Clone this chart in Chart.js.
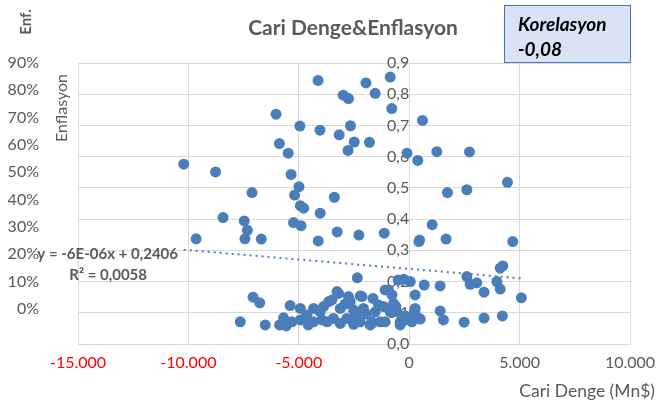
<!DOCTYPE html>
<html>
<head>
<meta charset="utf-8">
<script src="https://cdn.jsdelivr.net/npm/chart.js@4.4.1/dist/chart.umd.min.js"></script>
<style>
  html, body { margin: 0; padding: 0; background: #fff; }
  #wrap { width: 670px; height: 402px; }
</style>
</head>
<body>
<div id="wrap"><canvas id="chart" width="670" height="402"></canvas></div>
<script>
// Cari Denge (Mn$) vs Enflasyon, one pair per point
var cariDenge = [
  -4130, -1960, -2990, -2750, -860, -1540, -790, -6030, -4950, -4040,
  -3170, -2660, -5880, -5480, -2490, -2770, -1800, -10210, -8770, -5350,
  -7120, -4990, -5190, -3390, -4930, -4780, -4030, -8430, -7470, -5240,
  -4900, -3260, -2280, -9650, -7330, -7440, -6700, -4120, -1130, -100,
  390, 600, 1250, 2730, 1730, 2610, 1040, 470, 440, 1670,
  4450, 4690, -2350, -7650, -7070, -6770, -6520, -5870, -5690, -5390,
  -5310, -4930, -4930, -4630, -4330, -4330, -4030, -3950, -3650, -3720,
  -3500, -3200, -2750, -2220, -1640, -3270, -2670, -940, -780, -710,
  -3880, -3120, -2520, -2070, -1390, -560, -3430, -2820, -2220, -1690,
  -1090, -410, -3120, -2520, -1770, -410, -500, -250, 50, 270,
  680, 1400, 270, 240, 1400, 1550, 2490, 3390, 4220, 2610,
  2760, 3060, 3390, 3970, 4120, 4120, 4240, 5080, -270, 50,
  410, 500, 120, -1160, -600, -1090, -1310, -1690, -2140, -2900,
  -1950, -2400, -1540, -180, -860, -4570, -5570
];
var enflasyon = [
  0.844, 0.836, 0.797, 0.786, 0.855, 0.803, 0.754, 0.736, 0.698, 0.685,
  0.670, 0.699, 0.642, 0.611, 0.647, 0.620, 0.646, 0.576, 0.551, 0.543,
  0.485, 0.504, 0.477, 0.470, 0.443, 0.435, 0.419, 0.405, 0.394, 0.389,
  0.379, 0.359, 0.349, 0.337, 0.364, 0.337, 0.336, 0.330, 0.355, 0.611,
  0.588, 0.716, 0.616, 0.615, 0.485, 0.494, 0.382, 0.333, 0.328, 0.336,
  0.518, 0.328, 0.212, 0.071, 0.150, 0.132, 0.061, 0.061, 0.084, 0.123,
  0.071, 0.114, 0.077, 0.093, 0.114, 0.071, 0.104, 0.077, 0.136, 0.071,
  0.141, 0.162, 0.152, 0.154, 0.146, 0.168, 0.136, 0.173, 0.157, 0.130,
  0.120, 0.114, 0.109, 0.114, 0.125, 0.104, 0.082, 0.082, 0.071, 0.071,
  0.071, 0.071, 0.066, 0.063, 0.061, 0.061, 0.205, 0.207, 0.200, 0.157,
  0.189, 0.186, 0.114, 0.104, 0.106, 0.077, 0.070, 0.083, 0.090, 0.216,
  0.191, 0.196, 0.166, 0.200, 0.176, 0.243, 0.250, 0.148, 0.074, 0.077,
  0.083, 0.080, 0.071, 0.120, 0.120, 0.173, 0.071, 0.066, 0.152, 0.128,
  0.096, 0.090, 0.103, 0.090, 0.103, 0.061, 0.058
];

// trend line from the Excel label: y = -6E-06x + 0,2406
var trendSlope = -0.000006;
var trendIntercept = 0.2406;
var trendLabel = 'y = -6E-06x + 0,2406';
var r2Label = 'R² = 0,0058';
var korelasyon = '-0,08';

var xTicks = [-15000, -10000, -5000, 0, 5000, 10000];
var yTicks = [0, 0.1, 0.2, 0.3, 0.4, 0.5, 0.6, 0.7, 0.8, 0.9];
var pctTicks = [0, 0.1, 0.2, 0.3, 0.4, 0.5, 0.6, 0.7, 0.8, 0.9];

var FONT = 'Lato';
var GRAY = '#595959';
var BLUE = '#4a7ebb';

var points = [];
for (var i = 0; i < cariDenge.length; i++) {
  points.push({ x: cariDenge[i], y: enflasyon[i] });
}
var xMin = Math.min.apply(null, cariDenge);
var xMax = Math.max.apply(null, cariDenge);
var trendPoints = [
  { x: xMin, y: trendSlope * xMin + trendIntercept },
  { x: xMax, y: trendSlope * xMax + trendIntercept }
];

function fmtThousands(v) {
  var s = Math.abs(v).toString().replace(/\B(?=(\d{3})+(?!\d))/g, '.');
  return (v < 0 ? '-' : '') + s;
}

var textPlugin = {
  id: 'texts',
  afterDraw: function(chart) {
    var ctx = chart.ctx;
    ctx.save();
    // title
    ctx.fillStyle = GRAY;
    ctx.font = 'bold 21px ' + FONT;
    ctx.textAlign = 'center';
    ctx.textBaseline = 'middle';
    ctx.fillText('Cari Denge&Enflasyon', 353, 28);

    // korelasyon box
    ctx.fillStyle = '#dae3f3';
    ctx.fillRect(504.5, 5.5, 126, 57);
    ctx.strokeStyle = '#4472c4';
    ctx.lineWidth = 1;
    ctx.strokeRect(504.5, 5.5, 126, 57);
    ctx.fillStyle = '#000';
    ctx.font = 'italic bold 19px ' + FONT;
    ctx.textAlign = 'left';
    ctx.fillText('Korelasyon', 518, 25);
    ctx.fillText(korelasyon, 518, 50);

    // Enf. (rotated)
    ctx.save();
    ctx.translate(26, 22);
    ctx.rotate(-Math.PI / 2);
    ctx.fillStyle = GRAY;
    ctx.font = 'bold 15px ' + FONT;
    ctx.textAlign = 'center';
    ctx.fillText('Enf.', 0, 0);
    ctx.restore();

    // Enflasyon axis title
    ctx.save();
    ctx.translate(62, 108);
    ctx.rotate(-Math.PI / 2);
    ctx.fillStyle = GRAY;
    ctx.font = '16px ' + FONT;
    ctx.textAlign = 'center';
    ctx.fillText('Enflasyon', 0, 0);
    ctx.restore();

    // x axis title
    ctx.fillStyle = GRAY;
    ctx.font = '17.5px ' + FONT;
    ctx.textAlign = 'right';
    ctx.fillText('Cari Denge (Mn$)', 655, 391);

    // trend equation
    ctx.font = 'bold 15px ' + FONT;
    ctx.textAlign = 'right';
    ctx.fillText(trendLabel, 178, 254);
    ctx.fillText(r2Label, 147, 275);
    ctx.restore();
  }
};

var chart = new Chart(document.getElementById('chart'), {
  type: 'scatter',
  data: {
    datasets: [
      {
        label: 'Enflasyon',
        data: points,
        backgroundColor: BLUE,
        borderWidth: 0,
        pointRadius: 5.5,
        pointHoverRadius: 5.5,
        yAxisID: 'y'
      },
      {
        type: 'line',
        label: 'Trend',
        data: trendPoints,
        borderColor: BLUE,
        borderWidth: 2,
        borderDash: [2, 4],
        pointRadius: 0,
        fill: false,
        yAxisID: 'y'
      }
    ]
  },
  options: {
    responsive: false,
    animation: false,
    layout: { padding: { top: 63, right: 40, left: 0, bottom: 0 } },
    plugins: { legend: { display: false }, tooltip: { enabled: false } },
    scales: {
      x: {
        type: 'linear',
        position: 'bottom',
        min: -15000,
        max: 10000,
        afterBuildTicks: function(s) { s.ticks = xTicks.map(function(v) { return { value: v }; }); },
        afterFit: function(s) { s.height = 58; },
        grid: { color: '#d9d9d9', drawTicks: false },
        border: { color: '#d9d9d9' },
        ticks: {
          padding: 9,
          font: { family: FONT, size: 16 },
          color: function(c) { return c.tick && c.tick.value < 0 ? '#ff0000' : GRAY; },
          callback: function(v) { return fmtThousands(v); }
        }
      },
      y: {
        type: 'linear',
        position: { x: 0 },
        min: 0,
        max: 0.9,
        afterBuildTicks: function(s) { s.ticks = yTicks.map(function(v) { return { value: v }; }); },
        grid: { color: '#d9d9d9', drawTicks: false },
        border: { display: false },
        ticks: {
          padding: 17,
          font: { family: FONT, size: 16 },
          color: GRAY,
          callback: function(v) { return v.toFixed(1).replace('.', ','); }
        }
      },
      pct: {
        type: 'linear',
        position: 'left',
        min: -0.128,
        max: 0.9,
        afterBuildTicks: function(s) { s.ticks = pctTicks.map(function(v) { return { value: v }; }); },
        afterFit: function(s) { s.width = 78; },
        grid: { display: false, drawTicks: false },
        border: { display: false },
        ticks: {
          padding: 39,
          font: { family: FONT, size: 16 },
          color: GRAY,
          callback: function(v) { return Math.round(v * 100) + '%'; }
        }
      }
    }
  },
  plugins: [textPlugin]
});
</script>
</body>
</html>
